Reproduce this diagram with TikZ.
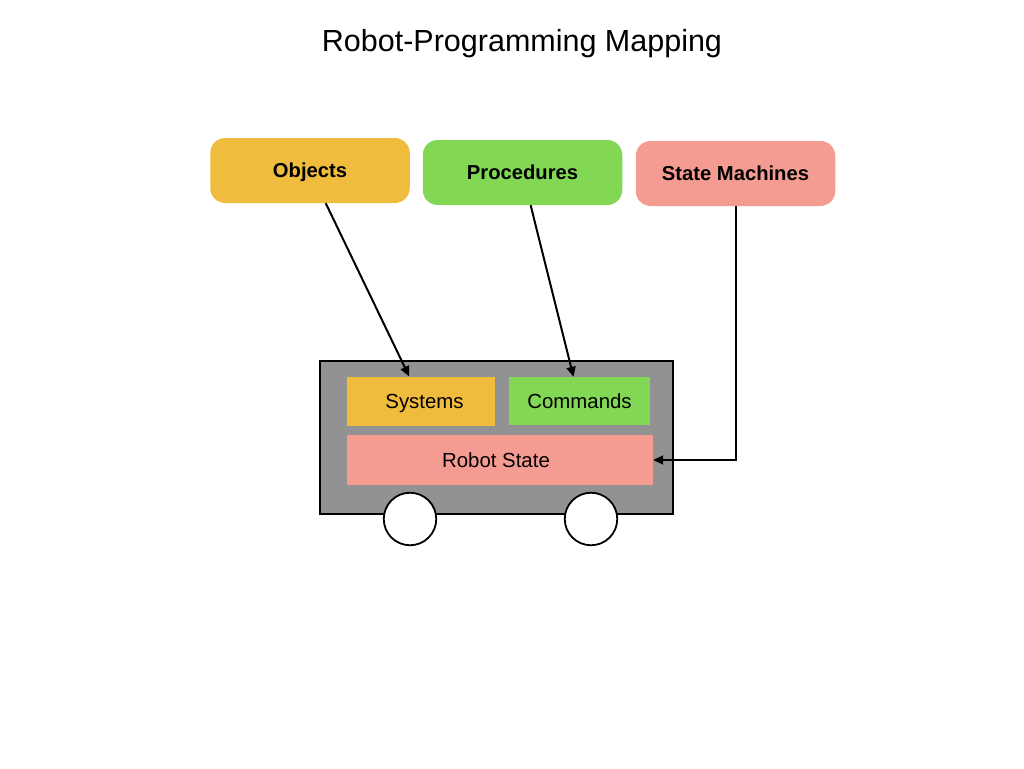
\documentclass[tikz,border=0pt]{standalone}
\usepackage{fontspec}
\setmainfont{Liberation Sans}
\usetikzlibrary{arrows.meta}
\definecolor{cyel}{HTML}{F0BC3E}
\definecolor{cgrn}{HTML}{82D855}
\definecolor{cred}{HTML}{F49C91}
\definecolor{cgry}{HTML}{929292}
\tikzset{
  x=1pt,y=-1pt,
  topbox/.style={rounded corners=15pt,minimum width=199.5pt,minimum height=65pt,inner sep=0pt,text height=16.5pt,text depth=2.5pt,font=\fontsize{20.2}{24}\selectfont\bfseries},
  inbox/.style={inner sep=0pt,text height=17pt,text depth=2pt,font=\fontsize{20.4}{24}\selectfont},
  wheel/.style={circle,draw=black,line width=1.8pt,fill=white,minimum size=52.5pt,inner sep=0pt},
  link/.style={draw=black,line width=2pt,-{Triangle[length=10pt,width=9pt]}}
}
\begin{document}
\begin{tikzpicture}
\useasboundingbox (0,0) rectangle (1024,768);
\fill[white] (0,0) rectangle (1024,768);
\node[font=\fontsize{30.5}{34}\selectfont,inner sep=0pt] (title) at (522,44) {Robot-Programming Mapping};
\node[topbox,fill=cyel] (obj) at (310,170.5) {Objects};
\node[topbox,fill=cgrn] (proc) at (522.5,172.5) {Procedures};
\node[topbox,fill=cred] (sm) at (735.5,173.5) {State Machines};
\node[draw=black,line width=1.8pt,fill=cgry,minimum width=353pt,minimum height=153pt,inner sep=0pt] (truck) at (496.5,437.5) {};
\node[wheel] (w1) at (410,519) {};
\node[wheel] (w2) at (591,519) {};
\node[inbox,fill=cyel,minimum width=148.5pt,minimum height=49pt] (sys) at (421,401) {\hspace*{7pt}Systems};
\node[inbox,fill=cgrn,minimum width=141pt,minimum height=48pt] (cmd) at (579.5,401) {Commands};
\node[inbox,fill=cred,minimum width=306pt,minimum height=50pt] (rs) at (500,460) {Robot State\hspace*{8pt}};
\draw[link] (obj) -- (sys);
\draw[link] (proc) -- (cmd);
\draw[link] (sm) |- (rs);
\end{tikzpicture}
\end{document}
